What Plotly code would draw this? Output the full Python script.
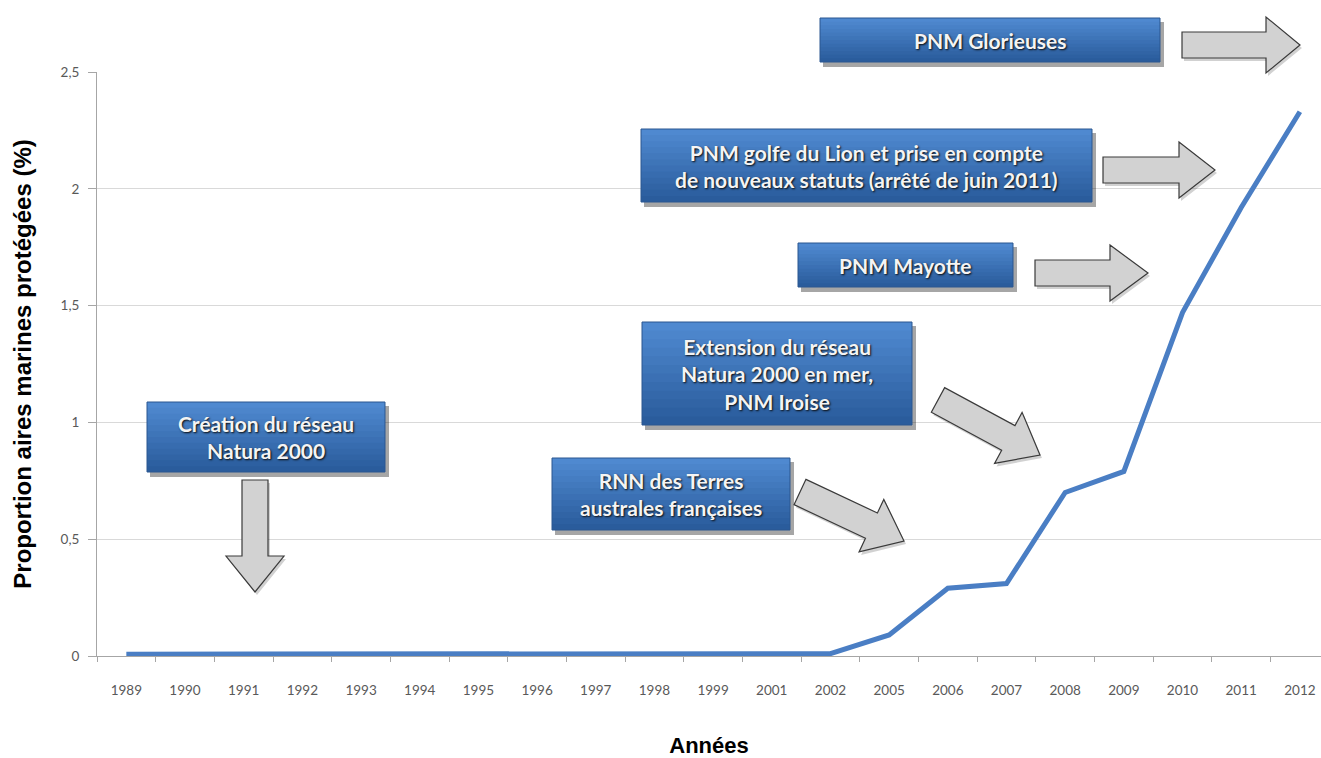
import plotly.graph_objects as go

years = ["1989", "1990", "1991", "1992", "1993", "1994", "1995", "1996", "1997", "1998",
         "1999", "2001", "2002", "2005", "2006", "2007", "2008", "2009", "2010", "2011", "2012"]
proportion = [0.008, 0.008, 0.009, 0.01, 0.01, 0.01, 0.01, 0.01, 0.01, 0.01,
              0.01, 0.01, 0.01, 0.09, 0.29, 0.31, 0.70, 0.79, 1.47, 1.92, 2.33]

y_ticks = [0, 0.5, 1, 1.5, 2, 2.5]

FIG_W, FIG_H = 1321, 758
# plot area in pixels (used only to place the callouts / arrows)
L, T, W, H = 97, 72, 1224, 584


def px(x):
    return (x - L) / W


def py(y):
    return (T + H - y) / H


fig = go.Figure()

fig.add_trace(go.Scatter(x=years, y=proportion, mode="lines",
                         line=dict(color="#4a7ec4", width=5),
                         hoverinfo="x+y", showlegend=False))

shapes = []
annotations = []

BLUE_TOP = "#4f89d0"
BLUE_BOTTOM = "#2a5c9c"


def mix(c1, c2, t):
    a = [int(c1[i:i + 2], 16) for i in (1, 3, 5)]
    b = [int(c2[i:i + 2], 16) for i in (1, 3, 5)]
    return "#%02x%02x%02x" % tuple(round(a[k] + (b[k] - a[k]) * t) for k in range(3))


def callout(x0, y0, x1, y1, text):
    # shadow
    shapes.append(dict(type="rect", xref="paper", yref="paper",
                       x0=px(x0 + 3), x1=px(x1 + 4), y0=py(y1 + 5), y1=py(y0 + 4),
                       fillcolor="rgba(0,0,0,0.35)", line_width=0, layer="above"))
    n = 12
    for i in range(n):
        ya = y0 + (y1 - y0) * i / n
        shapes.append(dict(type="rect", xref="paper", yref="paper",
                           x0=px(x0), x1=px(x1), y0=py(y1), y1=py(ya),
                           fillcolor=mix(BLUE_TOP, BLUE_BOTTOM, i / (n - 1)),
                           line_width=0, layer="above"))
    shapes.append(dict(type="rect", xref="paper", yref="paper",
                       x0=px(x0), x1=px(x1), y0=py(y1), y1=py(y0),
                       fillcolor="rgba(0,0,0,0)", line=dict(color="#2a5690", width=1),
                       layer="above"))
    annotations.append(dict(xref="paper", yref="paper",
                            x=px((x0 + x1) / 2), y=py((y0 + y1) / 2),
                            xanchor="center", yanchor="middle",
                            text="<b>" + text + "</b>", showarrow=False,
                            font=dict(family="Lato", size=21, color="#f4f4f4",
                                      shadow="1px 1px 2px #0a0a0a"),
                            align="center"))


def block_arrow(xs, ys, xe, ye, shaft=24, head=56, head_len=36):
    dx, dy = xe - xs, ye - ys
    length = (dx * dx + dy * dy) ** 0.5
    ux, uy = dx / length, dy / length
    nx, ny = -uy, ux
    bx, by = xe - ux * head_len, ye - uy * head_len
    pts = [
        (xs + nx * shaft / 2, ys + ny * shaft / 2),
        (bx + nx * shaft / 2, by + ny * shaft / 2),
        (bx + nx * head / 2, by + ny * head / 2),
        (xe, ye),
        (bx - nx * head / 2, by - ny * head / 2),
        (bx - nx * shaft / 2, by - ny * shaft / 2),
        (xs - nx * shaft / 2, ys - ny * shaft / 2),
    ]
    path = "M " + " L ".join("%.5f,%.5f" % (px(a), py(b)) for a, b in pts) + " Z"
    shadow = "M " + " L ".join("%.5f,%.5f" % (px(a + 2), py(b + 3)) for a, b in pts) + " Z"
    shapes.append(dict(type="path", xref="paper", yref="paper", path=shadow,
                       fillcolor="rgba(0,0,0,0.18)", line_width=0, layer="above"))
    shapes.append(dict(type="path", xref="paper", yref="paper", path=path,
                       fillcolor="#d2d2d2", line=dict(color="#3a3a3a", width=1.2),
                       layer="above"))


callout(147, 402, 385, 472, "Création du réseau<br>Natura 2000")
block_arrow(255, 480, 255, 592, shaft=26, head=58, head_len=36)

callout(552, 458, 790, 530, "RNN des Terres<br>australes françaises")
block_arrow(800, 492, 904, 541, shaft=28, head=58, head_len=36)

callout(642, 322, 912, 425, "Extension du réseau<br>Natura 2000 en mer,<br>PNM Iroise")
block_arrow(938, 400, 1040, 455, shaft=28, head=58, head_len=36)

callout(798, 243, 1013, 287, "PNM Mayotte")
block_arrow(1035, 273, 1148, 273, shaft=26, head=56, head_len=38)

callout(641, 129, 1092, 202, "PNM golfe du Lion et prise en compte<br>de nouveaux statuts (arrêté de juin 2011)")
block_arrow(1103, 170, 1215, 170, shaft=26, head=56, head_len=36)

callout(820, 18, 1160, 62, "PNM Glorieuses")
block_arrow(1182, 45, 1300, 45, shaft=26, head=56, head_len=34)

fig.update_layout(
    width=FIG_W, height=FIG_H,
    margin=dict(l=L, r=FIG_W - L - W, t=T, b=FIG_H - T - H, pad=0),
    paper_bgcolor="white",
    plot_bgcolor="white",
    separators=", ",
    font=dict(family="Lato", color="#595959", size=13),
    shapes=shapes,
    annotations=annotations,
    xaxis=dict(
        type="category",
        range=[-0.5, 20.36],
        showgrid=False, zeroline=False,
        showline=True, linecolor="#a6a6a6", linewidth=1,
        ticks="outside", tickson="boundaries", ticklen=5, tickcolor="#a6a6a6",
        ticklabelstandoff=22,
        tickfont=dict(family="Lato", size=13.5, color="#595959"),
        title=dict(text="<b>Années</b>", standoff=43,
                   font=dict(family="Liberation Sans", size=22, color="black")),
    ),
    yaxis=dict(
        range=[0, 2.5],
        tickvals=y_ticks,
        showgrid=True, gridcolor="#d9d9d9", gridwidth=1,
        zeroline=False,
        showline=True, linecolor="#a6a6a6", linewidth=1,
        ticks="outside", ticklen=8, tickcolor="#a6a6a6",
        ticklabelstandoff=6,
        tickfont=dict(family="Lato", size=13.5, color="#595959"),
        title=dict(text="<b>Proportion aires marines protégées (%)</b>", standoff=22,
                   font=dict(family="Liberation Sans", size=24, color="black")),
    ),
)

# drop the default page margin so the figure fills the window exactly
fig.write_html("out.html", config={"displayModeBar": False},
               post_script="document.body.style.margin='0';")
